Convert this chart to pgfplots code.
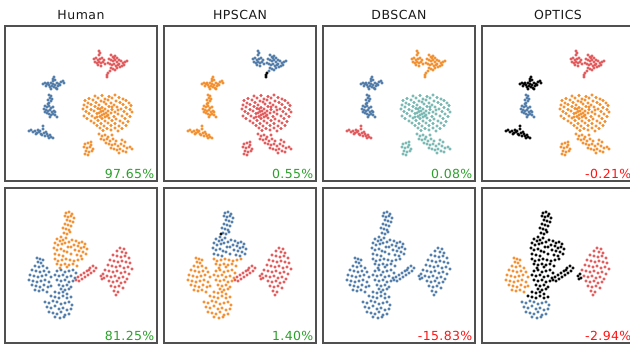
\documentclass[border=0pt]{standalone}
\usepackage{pgfplots}
\pgfplotsset{compat=1.18}
\usepackage{pgfplotstable}
\usepackage{fontspec}
\newfontfamily\ttlfont{DejaVu Sans}[LetterSpace=4]
\newfontfamily\pctfont{DejaVu Sans}[LetterSpace=3]
\definecolor{tblue}{RGB}{78,121,167}
\definecolor{torange}{RGB}{242,142,43}
\definecolor{tred}{RGB}{225,87,89}
\definecolor{tteal}{RGB}{118,183,178}
\definecolor{pgreen}{RGB}{44,160,44}
\definecolor{pred}{RGB}{255,20,20}
\definecolor{boxgray}{RGB}{80,80,80}

% ---------- top row subsets (local px, y downward) ----------
\pgfplotstableread[row sep=\\]{x y\\
38 58\\ 40 57\\ 42 58\\ 44 59\\ 46 57\\ 48 58\\ 50 59\\ 52 57\\ 54 58\\ 56 56\\ 58 55\\ 59 57\\ 41 60\\ 45 61\\ 49 61\\ 51 62\\ 47 60\\ 53 60\\ 48 53\\ 49 51\\ 48 55\\ 50 54\\ 55 59\\ 43 57\\ 46 63\\ 52 63\\
}\Sone
\pgfplotstableread[row sep=\\]{x y\\
44 69\\ 46 70\\ 45 72\\ 47 73\\ 43 74\\ 46 75\\ 44 77\\ 40 80\\ 42 81\\ 44 80\\ 46 82\\ 48 81\\ 39 83\\ 41 84\\ 43 85\\ 45 84\\ 47 86\\ 49 85\\ 42 87\\ 44 88\\ 46 89\\ 48 88\\ 50 89\\ 52 91\\ 40 86\\ 45 91\\ 50 86\\ 43 78\\
}\Stwo
\pgfplotstableread[row sep=\\]{x y\\
24 105\\ 26 104\\ 28 106\\ 30 105\\ 32 107\\ 33 104\\ 34 106\\ 36 108\\ 35 105\\ 37 109\\ 39 107\\ 40 110\\ 42 108\\ 43 110\\ 45 109\\ 46 111\\ 48 112\\ 44 112\\ 38 103\\ 38 100\\ 31 108\\ 41 106\\
}\Sthree
\pgfplotstableread[row sep=\\]{x y\\
94 25\\ 95 27\\ 94 29\\ 89 33\\ 91 32\\ 93 34\\ 95 33\\ 97 32\\ 99 34\\ 90 36\\ 92 37\\ 94 36\\ 96 37\\ 98 36\\ 100 38\\ 93 39\\ 96 40\\
106 29\\ 108 31\\ 110 30\\ 112 32\\ 104 33\\ 106 34\\ 108 35\\ 110 34\\ 112 36\\ 114 34\\ 116 35\\ 118 37\\ 120 36\\ 122 35\\ 103 37\\ 105 38\\ 107 39\\ 109 38\\ 111 40\\ 113 39\\ 115 41\\ 117 40\\ 106 42\\ 108 43\\ 110 44\\ 112 42\\ 105 45\\ 114 38\\ 119 39\\ 109 32\\
}\Sfour
\pgfplotstableread[row sep=\\]{x y\\
103 47\\ 102 49\\ 102 51\\
}\Sfive
\pgfplotstableread[row sep=\\]{x y\\
90 70\\ 97 69.5\\ 104 70.5\\ 110 69\\
84 72.5\\ 93 72\\ 100 73\\ 107 72\\ 114 71.5\\ 118 73\\
80 74.5\\ 88 74\\ 96 75\\ 103 74\\ 111 75\\ 121 74.5\\
83 77\\ 91 76.5\\ 99 76\\ 106 77\\ 115 76.5\\ 124 77\\
79 79\\ 86 78.5\\ 94 79\\ 101 78\\ 109 79\\ 118 78.5\\ 126 79.5\\
82 81\\ 90 80.5\\ 97 81.5\\ 104 80.5\\ 112 81\\ 121 81.5\\
78 83\\ 86 83.5\\ 93 82.5\\ 100 83\\ 107 83.5\\ 116 83\\ 125 83.5\\
81 85.5\\ 89 85\\ 96 85.5\\ 103 85\\ 110 86\\ 119 85.5\\ 127 86\\
84 87.5\\ 92 87.5\\ 99 88\\ 106 87\\ 113 88\\ 122 88\\
79 90\\ 87 90\\ 95 90.5\\ 102 90\\ 109 90.5\\ 117 90\\ 125 90.5\\
82 92.5\\ 90 92\\ 97 92.5\\ 104 92\\ 111 93\\ 120 92.5\\
86 95\\ 93 94.5\\ 100 95\\ 107 94.5\\ 115 95\\ 123 95.5\\
89 97\\ 96 97.5\\ 103 97\\ 110 97.5\\ 118 97\\
92 99.5\\ 99 100\\ 106 99.5\\ 114 100\\ 121 99.5\\
95 102\\ 102 102.5\\ 110 102\\ 117 102.5\\
98 104.5\\ 106 104\\ 113 105\\
95 83\\ 98 85\\ 101 87\\ 97 89\\ 100 91\\ 103 89\\ 94 87\\ 92 91\\ 107 81\\ 113 84\\
80 118\\ 83 117\\ 86 119\\ 79 121\\ 82 122\\ 85 121\\ 88 123\\ 81 125\\ 84 126\\ 87 125\\ 80 128\\ 83 129\\ 86 116\\
94 108\\ 97 110\\ 100 109\\ 103 111\\ 96 113\\ 99 114\\ 102 113\\ 105 115\\ 108 113\\ 111 115\\ 101 117\\ 104 118\\ 107 119\\ 110 118\\ 113 120\\ 116 118\\ 119 120\\ 122 122\\ 125 121\\ 127 123\\ 106 122\\ 109 123\\ 112 124\\ 115 123\\ 118 125\\ 121 126\\ 114 127\\ 117 114\\ 120 116\\ 107 109\\
}\Ssix

% ---------- bottom row subsets ----------
\pgfplotstableread[row sep=\\]{x y\\
61 25\\ 64 24\\ 67 26\\ 60 28\\ 63 29\\ 66 28\\ 69 30\\ 62 32\\ 65 33\\ 68 34\\ 60 36\\ 63 37\\ 66 38\\ 58 40\\ 61 41\\ 64 42\\ 59 45\\ 62 46\\ 65 44\\ 56 49\\ 52 51\\ 55 53\\ 58 52\\ 61 50\\ 50 55\\ 53 57\\ 57 56\\ 60 55\\ 64 54\\ 67 52\\ 71 53\\ 74 55\\ 77 54\\ 80 56\\ 73 58\\ 76 60\\ 79 59\\ 82 61\\ 69 57\\ 66 59\\ 63 59\\ 49 60\\ 52 62\\ 56 61\\ 59 63\\ 62 64\\ 70 62\\ 74 63\\ 78 64\\ 81 66\\ 50 66\\ 54 67\\ 58 68\\ 66 66\\ 72 67\\ 76 68\\
}\Bstalk
\pgfplotstableread[row sep=\\]{x y\\
50 71\\ 53 73\\ 57 72\\ 61 71\\ 65 72\\ 69 73\\ 73 72\\ 77 71\\ 52 76\\ 56 77\\ 60 76\\ 64 77\\ 68 76\\ 72 78\\ 55 80\\ 62 79\\
}\Btwo
\pgfplotstableread[row sep=\\]{x y\\
32 70\\ 35 71\\ 38 72\\ 33 74\\ 36 75\\ 30 78\\ 34 79\\ 38 78\\ 42 80\\ 27 82\\ 31 83\\ 35 84\\ 39 83\\ 44 84\\ 25 87\\ 29 88\\ 33 89\\ 37 88\\ 41 87\\ 46 89\\ 24 92\\ 28 93\\ 32 94\\ 36 93\\ 40 92\\ 44 94\\ 27 97\\ 31 98\\ 35 99\\ 39 97\\ 43 99\\ 30 102\\ 34 103\\ 38 102\\ 42 104\\ 46 98\\
}\Bleft
\pgfplotstableread[row sep=\\]{x y\\
52 83\\ 56 82\\ 60 84\\ 64 83\\ 68 82\\ 71 85\\ 50 87\\ 54 88\\ 58 87\\ 62 89\\ 66 88\\ 70 90\\ 52 92\\ 56 93\\ 60 92\\ 64 94\\ 68 93\\ 54 97\\ 58 98\\ 62 97\\ 66 99\\ 56 101\\ 60 102\\ 64 101\\
}\Bcenter
\pgfplotstableread[row sep=\\]{x y\\
50 104\\ 54 105\\ 58 104\\ 62 106\\ 46 108\\ 50 109\\ 54 110\\ 58 108\\ 62 110\\ 66 109\\
}\Bbup
\pgfplotstableread[row sep=\\]{x y\\
40 114\\ 44 115\\ 48 113\\ 52 114\\ 56 116\\ 60 115\\ 64 114\\ 67 117\\ 42 119\\ 46 120\\ 50 118\\ 54 121\\ 58 120\\ 62 122\\ 66 121\\ 44 124\\ 48 125\\ 52 126\\ 56 124\\ 60 127\\ 64 126\\ 50 129\\ 55 130\\ 59 129\\
}\Bblow
\pgfplotstableread[row sep=\\]{x y\\
88 78\\ 91 80\\ 85 80\\ 89 83\\ 82 83\\ 86 85\\ 79 85\\ 83 87\\ 76 87\\ 80 89\\ 73 89\\ 77 91\\ 71 92\\ 84 82\\ 74 93\\
}\Bsmall
\pgfplotstableread[row sep=\\]{x y\\
96 88\\ 97 91\\ 99 90\\ 98 86\\
}\Bedge
\pgfplotstableread[row sep=\\]{x y\\
115 60\\ 119 61\\ 112 63\\ 117 64\\ 121 65\\ 108 67\\ 112 68\\ 116 69\\ 120 68\\ 124 70\\ 105 72\\ 109 73\\ 113 74\\ 117 73\\ 121 74\\ 125 75\\ 103 77\\ 107 78\\ 111 79\\ 115 78\\ 119 80\\ 123 79\\ 127 81\\ 100 82\\ 104 83\\ 108 84\\ 112 83\\ 116 85\\ 120 84\\ 124 86\\ 102 88\\ 106 89\\ 110 88\\ 114 90\\ 118 89\\ 122 91\\ 104 93\\ 108 94\\ 112 93\\ 116 95\\ 120 94\\ 106 98\\ 110 99\\ 114 98\\ 118 100\\ 109 103\\ 113 104\\ 111 107\\
}\Bright
\pgfplotstableread[row sep=\\]{x y\\
57 46\\
}\Bnoise

\newcommand{\pts}[2]{\addplot[only marks, mark=*, mark size=1.3pt, color=#1] table[x=x, y expr=-\thisrow{y}] {#2};}
\newcommand{\pct}[2]{\node[anchor=base east, inner sep=0pt, text=#1, font=\pctfont\fontsize{12.5}{14}\selectfont] at (axis cs:149.5,-152.5) {#2};}

\pgfplotsset{pan/.style={width=152pt, height=155pt, scale only axis, anchor=north west,
  xmin=0, xmax=152, ymin=-155, ymax=0, xtick=\empty, ytick=\empty, clip=false,
  axis line style={draw=boxgray, line width=1.1pt},
  title style={at={(0.5,1)}, anchor=base, yshift=0.5pt, inner sep=0pt, font=\ttlfont\fontsize{12.5}{14}\selectfont, text=black!90}}}

\begin{document}
\begin{tikzpicture}[x=1pt,y=1pt]
\useasboundingbox (0,0) rectangle (630,-345);
\clip (0,0) rectangle (630,-345);
% ---------------- top row ----------------
\begin{axis}[pan, at={(5,-26)}, title={Human}]
\pts{tblue}{\Sone}\pts{tblue}{\Stwo}\pts{tblue}{\Sthree}
\pts{tred}{\Sfour}\pts{tred}{\Sfive}\pts{torange}{\Ssix}
\pct{pgreen}{97.65\%}
\end{axis}
\begin{axis}[pan, at={(164,-26)}, title={HPSCAN}]
\pts{torange}{\Sone}\pts{torange}{\Stwo}\pts{torange}{\Sthree}
\pts{tblue}{\Sfour}\pts{black}{\Sfive}\pts{tred}{\Ssix}
\pct{pgreen}{0.55\%}
\end{axis}
\begin{axis}[pan, at={(323,-26)}, title={DBSCAN}]
\pts{tblue}{\Sone}\pts{tblue}{\Stwo}\pts{tred}{\Sthree}
\pts{torange}{\Sfour}\pts{torange}{\Sfive}\pts{tteal}{\Ssix}
\pct{pgreen}{0.08\%}
\end{axis}
\begin{axis}[pan, at={(482,-26)}, title={OPTICS}]
\pts{black}{\Sone}\pts{tblue}{\Stwo}\pts{black}{\Sthree}
\pts{tred}{\Sfour}\pts{tred}{\Sfive}\pts{torange}{\Ssix}
\pct{pred}{-0.21\%}
\end{axis}
% ---------------- bottom row ----------------
\begin{axis}[pan, at={(5,-188)}]
\pts{torange}{\Bstalk}\pts{torange}{\Btwo}\pts{tblue}{\Bleft}\pts{tblue}{\Bcenter}
\pts{tblue}{\Bbup}\pts{tblue}{\Bblow}\pts{tred}{\Bsmall}\pts{tred}{\Bedge}\pts{tred}{\Bright}
\pct{pgreen}{81.25\%}
\end{axis}
\begin{axis}[pan, at={(164,-188)}]
\pts{tblue}{\Bstalk}\pts{torange}{\Btwo}\pts{torange}{\Bleft}\pts{torange}{\Bcenter}
\pts{torange}{\Bbup}\pts{torange}{\Bblow}\pts{tred}{\Bsmall}\pts{tred}{\Bedge}\pts{tred}{\Bright}
\pts{black}{\Bnoise}
\pct{pgreen}{1.40\%}
\end{axis}
\begin{axis}[pan, at={(323,-188)}]
\pts{tblue}{\Bstalk}\pts{tblue}{\Btwo}\pts{tblue}{\Bleft}\pts{tblue}{\Bcenter}
\pts{tblue}{\Bbup}\pts{tblue}{\Bblow}\pts{tblue}{\Bsmall}\pts{tblue}{\Bedge}\pts{tblue}{\Bright}
\pct{pred}{-15.83\%}
\end{axis}
\begin{axis}[pan, at={(482,-188)}]
\pts{black}{\Bstalk}\pts{black}{\Btwo}\pts{torange}{\Bleft}\pts{black}{\Bcenter}
\pts{black}{\Bbup}\pts{tblue}{\Bblow}\pts{black}{\Bsmall}\pts{black}{\Bedge}\pts{tred}{\Bright}
\pct{pred}{-2.94\%}
\end{axis}
\end{tikzpicture}
\end{document}
